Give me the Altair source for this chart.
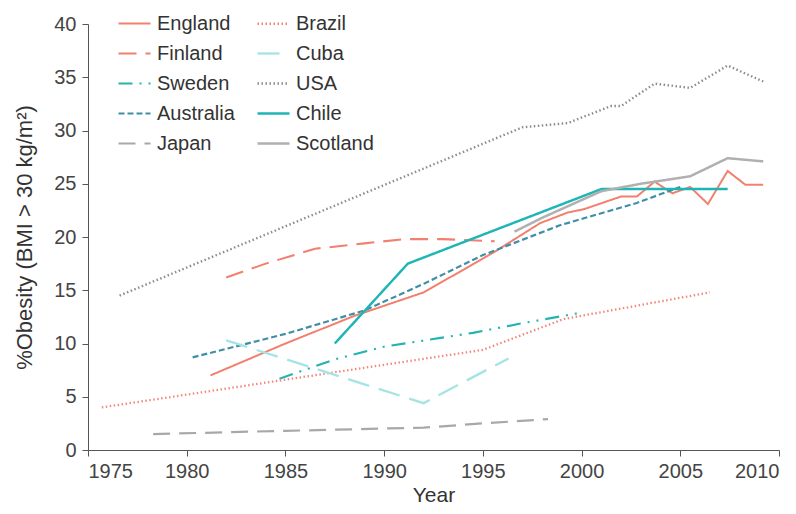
import altair as alt
import pandas as pd

# ---- data ----
england_years = [1981.2, 1985.0, 1988.5, 1992.0, 1995.5, 1997.9, 1999.3, 2000.1, 2002.0, 2002.8, 2003.7, 2004.6, 2005.5, 2006.4, 2007.4, 2008.3, 2009.2]
england_vals = [7.0, 10.0, 12.6, 14.8, 18.5, 21.3, 22.3, 22.6, 23.8, 23.8, 25.2, 24.1, 24.7, 23.1, 26.2, 24.9, 24.9]

finland_years = [1982.0, 1984.0, 1986.5, 1989.0, 1991.0, 1993.0, 1995.6]
finland_vals = [16.2, 17.5, 18.9, 19.4, 19.8, 19.8, 19.6]

sweden_years = [1984.7, 1987.5, 1990.0, 1994.5, 1997.0, 2000.0]
sweden_vals = [6.7, 8.5, 9.7, 11.0, 11.9, 12.9]

australia_years = [1980.3, 1985.0, 1989.0, 1992.0, 1995.0, 1998.9, 2002.8, 2005.0]
australia_vals = [8.7, 10.9, 13.1, 15.6, 18.3, 21.1, 23.2, 24.7]

japan_years = [1978.3, 1985.0, 1992.0, 1995.0, 1998.3]
japan_vals = [1.5, 1.8, 2.1, 2.5, 2.9]

brazil_years = [1975.7, 1995.0, 1999.1, 2006.5]
brazil_vals = [4.0, 9.4, 12.3, 14.8]

cuba_years = [1982.0, 1992.0, 1996.3]
cuba_vals = [10.3, 4.4, 8.6]

usa_years = [1976.6, 1997.0, 1999.3, 2001.5, 2002.0, 2003.7, 2005.5, 2007.4, 2009.2]
usa_vals = [14.5, 30.3, 30.7, 32.3, 32.3, 34.4, 34.0, 36.1, 34.6]

chile_years = [1987.5, 1991.2, 2001.0, 2007.4]
chile_vals = [10.0, 17.5, 24.5, 24.5]

scotland_years = [1996.6, 1998.0, 2001.0, 2003.0, 2005.5, 2007.4, 2009.2]
scotland_vals = [20.5, 21.8, 24.3, 25.0, 25.7, 27.4, 27.1]

series = {
    "England": (england_years, england_vals),
    "Finland": (finland_years, finland_vals),
    "Sweden": (sweden_years, sweden_vals),
    "Australia": (australia_years, australia_vals),
    "Japan": (japan_years, japan_vals),
    "Brazil": (brazil_years, brazil_vals),
    "Cuba": (cuba_years, cuba_vals),
    "USA": (usa_years, usa_vals),
    "Chile": (chile_years, chile_vals),
    "Scotland": (scotland_years, scotland_vals),
}

# legend order (fills column by column, 2 columns)
order = ["England", "Finland", "Sweden", "Australia", "Japan", "Brazil", "Cuba", "USA", "Chile", "Scotland"]
colors = {
    "England": "#F2806F", "Brazil": "#F2877C", "Finland": "#F2806F", "Cuba": "#A6E4E4",
    "Sweden": "#22B3B3", "USA": "#8C8C8C", "Australia": "#3E8FA6", "Chile": "#1DB5B5",
    "Japan": "#A8A8A8", "Scotland": "#B0B0B0",
}
dashes = {
    "England": [1, 0], "Brazil": [1.5, 2.5], "Finland": [18, 9], "Cuba": [22, 10],
    "Sweden": [14, 7, 2, 7, 2, 7], "USA": [1.5, 2.5], "Australia": [6, 3], "Chile": [1, 0],
    "Japan": [17, 9], "Scotland": [1, 0],
}
widths = {
    "England": 2.0, "Brazil": 1.8, "Finland": 2.5, "Cuba": 2.5, "Sweden": 3.0,
    "USA": 1.8, "Australia": 2.2, "Chile": 2.8, "Japan": 2.2, "Scotland": 1.5,
}

rows = []
for name, (ys, vs) in series.items():
    for y, v in zip(ys, vs):
        rows.append({"country": name, "year": y, "value": v})
df = pd.DataFrame(rows)

FONT = "Liberation Sans"

chart = alt.Chart(df).mark_line().encode(
    x=alt.X("year:Q", title="Year",
            scale=alt.Scale(domain=[1975, 2010], nice=False, zero=False),
            axis=alt.Axis(values=list(range(1975, 2011, 5)), format="d")),
    y=alt.Y("value:Q", title="%Obesity (BMI > 30 kg/m²)",
            scale=alt.Scale(domain=[0, 40], nice=False),
            axis=alt.Axis(values=list(range(0, 41, 5)))),
    color=alt.Color("country:N", title=None,
                    scale=alt.Scale(domain=order, range=[colors[c] for c in order])),
    strokeDash=alt.StrokeDash("country:N", title=None,
                              scale=alt.Scale(domain=order, range=[dashes[c] for c in order])),
    strokeWidth=alt.StrokeWidth("country:N", title=None,
                                scale=alt.Scale(domain=order, range=[widths[c] for c in order])),
    detail="country:N",
).properties(
    width=691, height=426,
    autosize=alt.AutoSizeParams(type="none"),
    padding={"left": 80, "top": 16, "right": 9, "bottom": 56},
).configure_view(
    stroke=None
).configure_axis(
    grid=False,
    domainColor="#555555",
    tickColor="#555555",
    tickSize=6,
    labelColor="#444444",
    labelFont=FONT,
    labelFontSize=20,
    titleFont=FONT,
    titleFontSize=21,
    titleFontWeight="normal",
    titleColor="#333333",
).configure_axisX(
    labelPadding=5,
    titlePadding=3,
).configure_axisY(
    labelPadding=6,
    titlePadding=17,
    titleFontSize=22,
).configure_legend(
    orient="none",
    legendX=29,
    legendY=-18,
    columns=2,
    symbolType="stroke",
    symbolSize=1024,
    labelFont=FONT,
    labelFontSize=20,
    labelColor="#333333",
    labelOffset=5,
    rowPadding=2,
    columnPadding=17,
    padding=0,
)

chart.save("out.html", embed_options={"renderer": "svg", "actions": False})
